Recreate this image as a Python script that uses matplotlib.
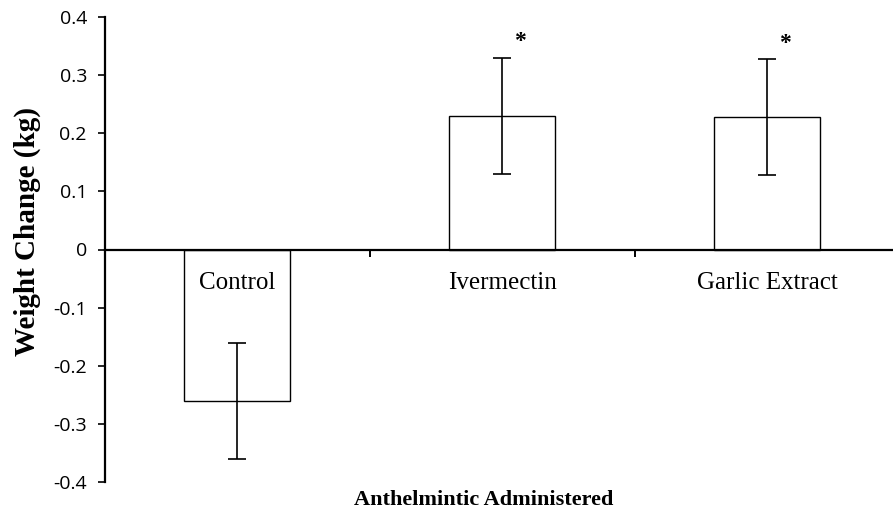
import matplotlib
matplotlib.use("Agg")

import matplotlib.pyplot as plt
import numpy as np

# ---------------------------------------------------------------------------
# DATA
# ---------------------------------------------------------------------------

categories = ["Control", "Ivermectin", "Garlic Extract"]
weight_change = [-0.26, 0.23, 0.228]
error = [0.10, 0.10, 0.10]
significant = [False, True, True]
y_ticks = [-0.4, -0.3, -0.2, -0.1, 0, 0.1, 0.2, 0.3, 0.4]
y_tick_labels = ["-0.4", "-0.3", "-0.2", "-0.1", "0", "0.1", "0.2", "0.3", "0.4"]

# ---------------------------------------------------------------------------
# PLOT
# ---------------------------------------------------------------------------

serif = ["Liberation Serif", "DejaVu Serif"]
sans = ["Open Sans", "DejaVu Sans"]

fig = plt.figure(figsize=(8.93, 5.12), dpi=100)
ax = fig.add_axes([105 / 893, 30 / 512, 788 / 893, 465 / 512])

x = np.arange(len(categories))
ax.bar(x, weight_change, width=0.40, color="white", edgecolor="black",
       linewidth=1.0, zorder=2)
ax.errorbar(x, weight_change, yerr=error, fmt="none", ecolor="black",
            elinewidth=1.2, capsize=6.5, capthick=1.2, zorder=3)

for xi, name in zip(x, categories):
    ax.text(xi, -0.058, name, ha="center", va="center", fontsize=18,
            family=serif)

for xi, val, err, sig in zip(x, weight_change, error, significant):
    if sig:
        ax.text(xi + 0.065, val + err + 0.027, "*", ha="center", va="center",
                fontsize=17, fontweight="bold", family=serif)

ax.set_xlim(-0.5, 2.474)
ax.set_ylim(-0.4, 0.4)

ax.spines["top"].set_visible(False)
ax.spines["right"].set_visible(False)
ax.spines["bottom"].set_position(("data", 0))
ax.spines["bottom"].set_linewidth(1.6)
ax.spines["left"].set_linewidth(1.6)

ax.set_xticks([0.5, 1.5])
ax.set_xticklabels([])
ax.tick_params(axis="x", direction="out", length=5, width=1.4)

ax.set_yticks(y_ticks)
ax.set_yticklabels(y_tick_labels, family=sans, fontsize=14)
ax.tick_params(axis="y", direction="out", length=5, width=1.2, pad=8)

fig.text(27 / 893, 1 - 231 / 512, "Weight Change (kg)", rotation=90,
         ha="center", va="center", fontsize=21, fontweight="bold",
         family=serif)
fig.text(484 / 893, 1 - 500 / 512, "Anthelmintic Administered",
         ha="center", va="center", fontsize=16, fontweight="bold",
         family=serif)

fig.savefig("out.png", dpi=100)
plt.close(fig)
